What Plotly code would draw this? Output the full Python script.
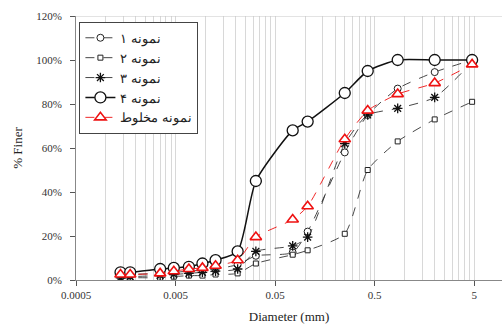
import math
import plotly.graph_objects as go

# ---- data ----
diameter = [0.0014, 0.00175, 0.0035, 0.0048, 0.0068, 0.0093, 0.0126, 0.021,
            0.032, 0.075, 0.106, 0.25, 0.425, 0.85, 2.0, 4.75]
sample1 = [2, 2.5, 3, 3.5, 4, 4.5, 5, 7, 11, 12.5, 22, 58, 75, 87, 94.5, 100]
sample2 = [0.5, 1, 1, 1.5, 2, 2, 2.5, 3, 7.5, 11.5, 13.5, 21, 50, 63, 73, 81]
sample3 = [1, 1.5, 2, 2.5, 3, 3.5, 4, 5, 13, 15.5, 19.5, 62, 75, 78, 83, 99]
sample4 = [3.5, 3.5, 5, 5.5, 6, 7.5, 9, 13, 45, 68, 72, 85, 95, 100, 100, 100]
mixed = [2.5, 2.5, 3, 4, 5, 5.5, 6.5, 9, 19.5, 27.5, 33.5, 64, 77, 84.5, 89.5, 98]

names = ["نمونه ۱", "نمونه ۲", "نمونه ۳", "نمونه ۴", "نمونه مخلوط"]
x_major = [0.0005, 0.005, 0.05, 0.5, 5]
x_major_text = ["0.0005", "0.005", "0.05", "0.5", "5"]
x_minor = [m * k for m in [0.0005, 0.005, 0.05, 0.5] for k in range(2, 10)]
y_ticks = [0, 20, 40, 60, 80, 100, 120]
y_text = ["0%", "20%", "40%", "60%", "80%", "100%", "120%"]

FONT = "Liberation Serif, DejaVu Serif, serif"
fig = go.Figure()

fig.add_trace(go.Scatter(
    x=diameter, y=sample1, name=names[0], mode="lines+markers",
    line=dict(color="#333333", width=0.9, dash="dash", shape="spline", smoothing=0.6),
    marker=dict(symbol="circle", size=7, color="white", line=dict(color="#222222", width=1))))
fig.add_trace(go.Scatter(
    x=diameter, y=sample2, name=names[1], mode="lines+markers",
    line=dict(color="#333333", width=0.9, dash="dash", shape="spline", smoothing=0.6),
    marker=dict(symbol="square", size=5, color="white", line=dict(color="#222222", width=1))))
fig.add_trace(go.Scatter(
    x=diameter, y=sample3, name=names[2], mode="lines+markers",
    line=dict(color="#333333", width=0.9, dash="dash", shape="spline", smoothing=0.6),
    marker=dict(symbol="asterisk-open", size=8, color="#111111", line=dict(color="#111111", width=1.3))))
fig.add_trace(go.Scatter(
    x=diameter, y=sample4, name=names[3], mode="lines+markers",
    line=dict(color="#111111", width=1.5, shape="spline", smoothing=0.6),
    marker=dict(symbol="circle", size=11, color="white", line=dict(color="#111111", width=1.3))))
fig.add_trace(go.Scatter(
    x=diameter, y=mixed, name=names[4], mode="lines+markers",
    line=dict(color="#ee1111", width=0.9, dash="dash", shape="spline", smoothing=0.6),
    marker=dict(symbol="triangle-up", size=10, color="white", line=dict(color="#ee1111", width=1.6))))

xmin = math.log10(0.0005)
fig.update_layout(
    width=502, height=324,
    margin=dict(l=76, r=0, t=16, b=44),
    paper_bgcolor="white", plot_bgcolor="white",
    font=dict(family=FONT, size=11, color="#333333"),
    showlegend=True,
    legend=dict(x=0.008, y=0.978, xanchor="left", yanchor="top",
                bgcolor="white", bordercolor="#444444", borderwidth=1,
                font=dict(family=FONT, size=13, color="#222222"),
                tracegroupgap=0),
    xaxis=dict(
        type="log", range=[xmin, xmin + 4.278],
        tickmode="array", tickvals=x_major, ticktext=x_major_text,
        ticks="outside", ticklen=5, tickcolor="#555555",
        showline=True, linecolor="#888888", linewidth=1,
        showgrid=True, gridcolor="#d8d8d8", gridwidth=1,
        minor=dict(tickmode="array", tickvals=x_minor, showgrid=True,
                   gridcolor="#d8d8d8", gridwidth=1, ticks=""),
        title=dict(text="Diameter (mm)", font=dict(family=FONT, size=13, color="#222222"), standoff=11),
        tickfont=dict(family=FONT, size=11, color="#333333"),
        zeroline=False,
    ),
    yaxis=dict(
        range=[0, 120], tickmode="array", tickvals=y_ticks, ticktext=y_text,
        ticks="outside", ticklen=5, tickcolor="#555555",
        showline=True, linecolor="#888888", linewidth=1,
        showgrid=False, zeroline=False,
        ticklabelstandoff=6,
        title=dict(text="% Finer", font=dict(family=FONT, size=13, color="#222222"), standoff=10),
        tickfont=dict(family=FONT, size=11, color="#333333"),
    ),
    shapes=[dict(type="line", xref="paper", yref="y", x0=0, x1=1, y0=120, y1=120,
                 line=dict(color="#c8c8c8", width=1))],
)

fig.write_html("out.html")
